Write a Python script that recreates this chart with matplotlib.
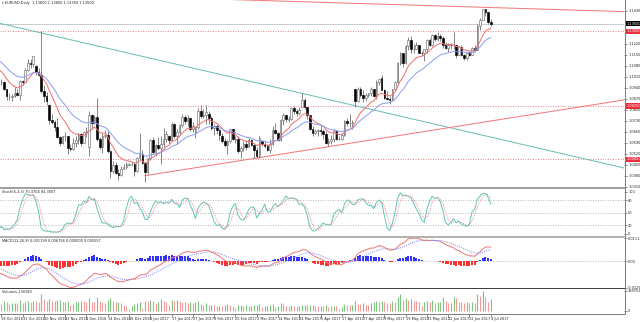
import numpy as np
import pandas as pd
import matplotlib
matplotlib.use("Agg")
from matplotlib import pyplot as plt
from matplotlib.lines import Line2D

W, H = 640, 322

# EURUSD daily bars, 3 Oct 2016 - 4 Jul 2017 (bars before 19 Oct only warm up the indicators)
dates = pd.bdate_range("2016-10-03", "2017-07-04")
first_shown = pd.Timestamp("2016-10-19")

opens = [
    # Oct
    1.1240, 1.1210, 1.1205, 1.1205, 1.1150, 1.1200, 1.1140, 1.1055, 1.1005, 1.1060, 1.0970, 1.1000,
    1.0975, 1.0975, 1.0930, 1.0880, 1.0880, 1.0885, 1.0905, 1.0895, 1.0985,
    # Nov
    1.0980, 1.1055, 1.1100, 1.1095, 1.1080, 1.1040, 1.1025, 1.0920, 1.0890, 1.0830, 1.0735,
    1.0720, 1.0690, 1.0625, 1.0590, 1.0630, 1.0630, 1.0555, 1.0550, 1.0590, 1.0610, 1.0645,
    # Dec
    1.0590, 1.0660, 1.0560, 1.0765, 1.0715, 1.0755, 1.0615, 1.0560, 1.0635, 1.0640, 1.0535,
    1.0410, 1.0450, 1.0400, 1.0385, 1.0425, 1.0435, 1.0450, 1.0455, 1.0455, 1.0410, 1.0495,
    # Jan
    1.0520, 1.0460, 1.0405, 1.0490, 1.0605, 1.0530, 1.0575, 1.0555, 1.0585, 1.0615, 1.0630,
    1.0605, 1.0710, 1.0630, 1.0660, 1.0705, 1.0755, 1.0730, 1.0750, 1.0680, 1.0660, 1.0690,
    # Feb
    1.0795, 1.0760, 1.0765, 1.0775, 1.0750, 1.0685, 1.0700, 1.0670, 1.0635, 1.0600,
    1.0575, 1.0600, 1.0675, 1.0610, 1.0615, 1.0540, 1.0555, 1.0585, 1.0565, 1.0605,
    # Mar
    1.0575, 1.0545, 1.0505, 1.0600, 1.0580, 1.0570, 1.0545, 1.0580, 1.0670, 1.0655, 1.0605, 1.0735,
    1.0765, 1.0735, 1.0740, 1.0810, 1.0795, 1.0780, 1.0815, 1.0865, 1.0815, 1.0765, 1.0675,
    # Apr
    1.0650, 1.0665, 1.0670, 1.0665, 1.0645, 1.0590, 1.0600, 1.0615, 1.0665, 1.0615,
    1.0615, 1.0640, 1.0730, 1.0715, 1.0715, 1.0935, 1.0855, 1.0930, 1.0895, 1.0875,
    # May
    1.0895, 1.0905, 1.0930, 1.0885, 1.0980, 1.1000, 1.0925, 1.0875, 1.0870, 1.0865, 1.0935, 1.0980,
    1.1100, 1.1160, 1.1100, 1.1205, 1.1245, 1.1185, 1.1185, 1.1210, 1.1165, 1.1160, 1.1185,
    # Jun
    1.1245, 1.1215, 1.1280, 1.1250, 1.1270, 1.1260, 1.1210, 1.1195, 1.1215, 1.1210, 1.1215,
    1.1150, 1.1200, 1.1150, 1.1130, 1.1165, 1.1150, 1.1195, 1.1180, 1.1335, 1.1375, 1.1440,
    # Jul
    1.1425, 1.1360,
]
highs = [
    1.1250, 1.1225, 1.1240, 1.1210, 1.1215, 1.1205, 1.1145, 1.1070, 1.1065, 1.1065, 1.1010, 1.1030,
    1.0995, 1.0985, 1.0935, 1.0905, 1.0900, 1.0945, 1.0935, 1.0990, 1.0990,
    1.1065, 1.1125, 1.1125, 1.1145, 1.1085, 1.1065, 1.1300, 1.0955, 1.0915, 1.0835, 1.0775,
    1.0735, 1.0745, 1.0635, 1.0635, 1.0660, 1.0635, 1.0585, 1.0620, 1.0630, 1.0655, 1.0655,
    1.0665, 1.0690, 1.0795, 1.0775, 1.0770, 1.0875, 1.0625, 1.0650, 1.0670, 1.0665, 1.0540,
    1.0475, 1.0465, 1.0420, 1.0445, 1.0455, 1.0465, 1.0460, 1.0470, 1.0470, 1.0500, 1.0650,
    1.0545, 1.0470, 1.0495, 1.0615, 1.0625, 1.0585, 1.0625, 1.0630, 1.0685, 1.0665, 1.0640,
    1.0720, 1.0715, 1.0680, 1.0710, 1.0775, 1.0770, 1.0770, 1.0755, 1.0725, 1.0700, 1.0810,
    1.0830, 1.0805, 1.0830, 1.0790, 1.0760, 1.0710, 1.0710, 1.0680, 1.0655, 1.0620,
    1.0610, 1.0680, 1.0680, 1.0635, 1.0630, 1.0570, 1.0600, 1.0605, 1.0620, 1.0615,
    1.0580, 1.0560, 1.0630, 1.0600, 1.0600, 1.0580, 1.0615, 1.0700, 1.0715, 1.0660, 1.0740, 1.0780,
    1.0775, 1.0760, 1.0820, 1.0825, 1.0805, 1.0815, 1.0905, 1.0875, 1.0820, 1.0770, 1.0695,
    1.0680, 1.0675, 1.0700, 1.0680, 1.0665, 1.0620, 1.0640, 1.0675, 1.0670, 1.0630,
    1.0655, 1.0735, 1.0750, 1.0775, 1.0735, 1.0935, 1.0945, 1.0945, 1.0925, 1.0905,
    1.0910, 1.0945, 1.0935, 1.0990, 1.0995, 1.1020, 1.0935, 1.0920, 1.0890, 1.0935, 1.0985, 1.1105,
    1.1170, 1.1165, 1.1210, 1.1265, 1.1270, 1.1220, 1.1235, 1.1215, 1.1175, 1.1190, 1.1250,
    1.1255, 1.1285, 1.1285, 1.1295, 1.1285, 1.1270, 1.1235, 1.1225, 1.1225, 1.1295, 1.1215,
    1.1205, 1.1215, 1.1155, 1.1170, 1.1175, 1.1200, 1.1215, 1.1350, 1.1385, 1.1445, 1.1445,
    1.1425, 1.1380,
]
lows = [
    1.1200, 1.1175, 1.1185, 1.1140, 1.1105, 1.1135, 1.1050, 1.0995, 1.0990, 1.0960, 1.0965, 1.0975,
    1.0960, 1.0925, 1.0860, 1.0865, 1.0855, 1.0880, 1.0890, 1.0860, 1.0955,
    1.0975, 1.1045, 1.1065, 1.1070, 1.1025, 1.1015, 1.0905, 1.0850, 1.0830, 1.0710, 1.0710,
    1.0665, 1.0620, 1.0570, 1.0580, 1.0600, 1.0520, 1.0540, 1.0545, 1.0560, 1.0585, 1.0570,
    1.0590, 1.0625, 1.0505, 1.0680, 1.0710, 1.0600, 1.0550, 1.0525, 1.0620, 1.0525, 1.0365,
    1.0395, 1.0390, 1.0350, 1.0375, 1.0420, 1.0425, 1.0445, 1.0440, 1.0375, 1.0405, 1.0480,
    1.0455, 1.0340, 1.0390, 1.0480, 1.0525, 1.0505, 1.0545, 1.0455, 1.0565, 1.0595, 1.0580,
    1.0600, 1.0620, 1.0585, 1.0640, 1.0690, 1.0710, 1.0700, 1.0665, 1.0660, 1.0620, 1.0680,
    1.0750, 1.0745, 1.0710, 1.0710, 1.0670, 1.0640, 1.0645, 1.0610, 1.0590, 1.0565,
    1.0520, 1.0590, 1.0605, 1.0590, 1.0525, 1.0495, 1.0540, 1.0545, 1.0560, 1.0570,
    1.0495, 1.0495, 1.0495, 1.0570, 1.0555, 1.0535, 1.0525, 1.0575, 1.0645, 1.0600, 1.0600, 1.0705,
    1.0720, 1.0720, 1.0735, 1.0775, 1.0760, 1.0770, 1.0815, 1.0805, 1.0740, 1.0670, 1.0635,
    1.0645, 1.0630, 1.0640, 1.0615, 1.0580, 1.0570, 1.0580, 1.0595, 1.0605, 1.0610,
    1.0610, 1.0635, 1.0700, 1.0690, 1.0680, 1.0820, 1.0850, 1.0880, 1.0850, 1.0855,
    1.0880, 1.0890, 1.0880, 1.0870, 1.0960, 1.0925, 1.0870, 1.0865, 1.0840, 1.0860, 1.0925, 1.0970,
    1.1085, 1.1075, 1.1095, 1.1180, 1.1165, 1.1165, 1.1185, 1.1160, 1.1145, 1.1110, 1.1165,
    1.1205, 1.1205, 1.1240, 1.1240, 1.1240, 1.1195, 1.1185, 1.1170, 1.1190, 1.1190, 1.1130,
    1.1150, 1.1145, 1.1120, 1.1120, 1.1140, 1.1150, 1.1170, 1.1180, 1.1310, 1.1370, 1.1395,
    1.1345, 1.1335,
]
closes = [
    1.1210, 1.1205, 1.1205, 1.1150, 1.1200, 1.1140, 1.1055, 1.1005, 1.1060, 1.0970, 1.1000, 1.0975,
    1.0975, 1.0930, 1.0885, 1.0880, 1.0885, 1.0905, 1.0895, 1.0985, 1.0980,
    1.1055, 1.1100, 1.1095, 1.1140, 1.1040, 1.1025, 1.0920, 1.0890, 1.0855, 1.0735, 1.0720,
    1.0690, 1.0625, 1.0590, 1.0630, 1.0630, 1.0555, 1.0550, 1.0590, 1.0610, 1.0645, 1.0590,
    1.0660, 1.0665, 1.0765, 1.0715, 1.0755, 1.0615, 1.0560, 1.0635, 1.0640, 1.0535, 1.0410,
    1.0450, 1.0400, 1.0385, 1.0425, 1.0435, 1.0455, 1.0455, 1.0455, 1.0410, 1.0495, 1.0520,
    1.0460, 1.0405, 1.0490, 1.0605, 1.0530, 1.0575, 1.0555, 1.0585, 1.0615, 1.0645, 1.0605,
    1.0710, 1.0630, 1.0660, 1.0705, 1.0755, 1.0730, 1.0750, 1.0680, 1.0695, 1.0690, 1.0795,
    1.0760, 1.0765, 1.0785, 1.0750, 1.0685, 1.0700, 1.0670, 1.0640, 1.0600, 1.0575,
    1.0600, 1.0675, 1.0615, 1.0615, 1.0540, 1.0555, 1.0585, 1.0560, 1.0605, 1.0575,
    1.0545, 1.0505, 1.0620, 1.0580, 1.0570, 1.0545, 1.0580, 1.0670, 1.0655, 1.0605, 1.0735, 1.0765,
    1.0740, 1.0740, 1.0810, 1.0795, 1.0780, 1.0800, 1.0865, 1.0815, 1.0765, 1.0675, 1.0650,
    1.0665, 1.0670, 1.0665, 1.0645, 1.0590, 1.0600, 1.0615, 1.0665, 1.0615, 1.0615,
    1.0640, 1.0730, 1.0715, 1.0715, 1.0725, 1.0855, 1.0930, 1.0895, 1.0875, 1.0895,
    1.0905, 1.0930, 1.0885, 1.0980, 1.0995, 1.0925, 1.0875, 1.0870, 1.0865, 1.0935, 1.0980, 1.1100,
    1.1160, 1.1100, 1.1205, 1.1245, 1.1185, 1.1185, 1.1210, 1.1165, 1.1160, 1.1185, 1.1245,
    1.1215, 1.1280, 1.1250, 1.1270, 1.1260, 1.1210, 1.1195, 1.1215, 1.1210, 1.1215, 1.1150,
    1.1200, 1.1150, 1.1130, 1.1165, 1.1150, 1.1195, 1.1180, 1.1335, 1.1375, 1.1440, 1.1425,
    1.1360, 1.1350,
]
volumes = [
    150210, 161480, 170330, 165020, 210940, 120580, 190110, 175730, 200460, 180320, 140870, 150650,
    140390, 200750, 170210, 130440, 150890, 160120, 150370, 210560, 150980,
    180430, 190260, 170810, 200190, 190540, 170330, 340120, 230670, 190480, 230150, 200870,
    190320, 210650, 220140, 170290, 180560, 190030, 110420, 140760, 170350, 180090, 200530,
    190410, 180220, 260130, 180570, 170940, 280360, 200180, 170620, 160470, 220910, 260250,
    190830, 170140, 170720, 150360, 120280, 100510, 40620, 90330, 140470, 160890, 170250,
    60240, 200580, 190310, 210470, 200650, 160190, 170830, 230540, 200260, 170390, 110720,
    220450, 200380, 210960, 190240, 170560, 170130, 160840, 170920, 160270, 180650, 200340,
    140460, 120780, 150120, 110590, 120350, 110880, 100240, 100670, 90910, 120230,
    130540, 120190, 100760, 60420, 110330, 120850, 90160, 110520, 90740, 100290,
    110850, 120420, 130190, 80560, 90830, 100270, 120610, 140340, 80480, 90950, 150720, 130360,
    100470, 90290, 120630, 100940, 90280, 100170, 120560, 120830, 110240, 120410, 110390,
    90620, 90250, 100880, 100330, 120460, 80790, 100120, 100560, 90380, 40910,
    70270, 130640, 120320, 110750, 120180, 200490, 140360, 130920, 150140, 110570,
    110380, 150690, 170240, 200510, 180130, 190870, 170460, 160290, 150740, 190350, 170620, 270140,
    330580, 220470, 250390, 220810, 230160, 190640, 190220, 170530, 100870, 180310, 200460,
    180290, 220570, 150840, 180130, 180460, 270320, 190750, 150280, 160910, 280430, 260170,
    180620, 170340, 160480, 170190, 160750, 170280, 160610, 330490, 300870, 399751, 280340,
    170560, 230180,
]

# objects drawn on the chart
level_lines = [1.1300, 1.0825, 1.0485]
level_labels = ["1.13000", "1.08250", "1.04850"]
teal_line = [("2016-11-09", 1.1290), ("2017-03-27", 1.0905)]
support_line = [("2017-01-03", 1.0380), ("2017-04-10", 1.0565)]
resistance_line = [("2017-02-22", 1.1501), ("2017-07-04", 1.1452)]
# scale labels (the two under the price boxes are hidden)
price_ticks = [1.1430, 1.1220, 1.1150, 1.1080, 1.1010, 1.0940, 1.0870,
               1.0800, 1.0730, 1.0660, 1.0590, 1.0520, 1.0450, 1.0380, 1.0310]
stoch_ticks = [100, 80, 50, 20, 0]
title = "EURUSD,Daily  1.13600 1.13800 1.13350 1.13500"

n = len(closes)
x = np.arange(n)
o, hi, lo, c = (np.array(a) for a in (opens, highs, lows, closes))
vol = np.array(volumes, dtype=float)
i0 = dates.get_loc(first_shown)
xmin, xmax = i0 - 0.5, i0 + 234.1
shown = x >= i0

# indicators
cs = pd.Series(c)
ma_fast = cs.ewm(span=10, adjust=False).mean()
ma_slow = cs.ewm(span=21, adjust=False).mean()
macd = cs.ewm(span=12, adjust=False).mean() - cs.ewm(span=26, adjust=False).mean()
signal = macd.ewm(span=9, adjust=False).mean()
osma = macd - signal
hh = pd.Series(hi).rolling(5).max()
ll = pd.Series(lo).rolling(5).min()
stoch_k = (cs - ll).rolling(3).sum() / (hh - ll).rolling(3).sum() * 100
stoch_d = stoch_k.rolling(3).mean()

FS = 2.5
PX = 0.72  # one pixel in points


def rect(x0, y0, x1, y1):
    return [x0 / W, 1 - y1 / H, (x1 - x0) / W, (y1 - y0) / H]


def line_from(points, x_from, x_to):
    (d1, p1), (d2, p2) = points
    a, b = dates.get_loc(pd.Timestamp(d1)), dates.get_loc(pd.Timestamp(d2))
    xs = np.array([a if x_from is None else x_from, x_to])
    return xs, p1 + (p2 - p1) / (b - a) * (xs - a)


fig = plt.figure(figsize=(W / 100, H / 100), dpi=100)
ax = fig.add_axes(rect(0, 0, 624, 187))
ax_st = fig.add_axes(rect(0, 189, 624, 236.5))
ax_md = fig.add_axes(rect(0, 238, 624, 287.5))
ax_v = fig.add_axes(rect(0, 289, 624, 313.5))

for a in (ax, ax_st, ax_md, ax_v):
    a.set_xlim(xmin, xmax)
    for s in a.spines.values():
        s.set_visible(False)
    a.yaxis.tick_right()
    a.tick_params(axis="y", length=2, width=0.5, pad=1, labelsize=FS, colors="#606060",
                  labelcolor="#202020")
    a.tick_params(axis="x", bottom=False, labelbottom=False)

# main price pane
ax.set_ylim(1.0308, 1.1500)
ax.set_yticks(price_ticks)
ax.set_yticklabels([f"{p:.5f}" for p in price_ticks])

ax.axhline(c[-1], color="#cccccc", lw=1 * PX, zorder=1)
for p in level_lines:
    ax.axhline(p, color="#e98a8a", lw=1 * PX, ls=(0, (1, 1.5)), zorder=1)

xs, ys = line_from(teal_line, xmin, xmax)
ax.plot(xs, ys, color="#6cbdb5", lw=1 * PX, zorder=2)
xs, ys = line_from(support_line, None, xmax)
ax.plot(xs, ys, color="#f07878", lw=1 * PX, zorder=2)
xs, ys = line_from(resistance_line, xmin, xmax)
ax.plot(xs, ys, color="#f07878", lw=1 * PX, zorder=2)

bull = c >= o
ax.vlines(x, lo, hi, color="#6a6a6a", lw=0.8 * PX, zorder=3)
body = np.maximum(np.abs(c - o), 0.00008)
ax.bar(x[bull], body[bull], bottom=np.minimum(o, c)[bull], width=0.6,
       color="white", edgecolor="#6a6a6a", lw=0.6 * PX, zorder=4)
ax.bar(x[~bull], body[~bull], bottom=np.minimum(o, c)[~bull], width=0.6,
       color="black", edgecolor="black", lw=0.6 * PX, zorder=4)

ax.plot(x, ma_fast, color="#f07070", lw=1 * PX, zorder=5)
ax.plot(x, ma_slow, color="#8c9ef2", lw=1 * PX, zorder=5)

ax.text(0.004, 0.993, "\u25be " + title, transform=ax.transAxes, fontsize=FS, va="top",
        ha="left", color="#202020")
yax = ax.get_yaxis_transform()
ax.text(1.004, c[-1], f"{c[-1]:.5f}", transform=yax, fontsize=FS, va="center", ha="left",
        color="white", clip_on=False, zorder=10,
        bbox=dict(boxstyle="square,pad=0.2", fc="black", ec="none"))
for p, lab in zip(level_lines, level_labels):
    ax.text(1.004, p, lab, transform=yax, fontsize=FS, va="center", ha="left",
            color="white", clip_on=False, zorder=10,
            bbox=dict(boxstyle="square,pad=0.2", fc="#e8303a", ec="none"))

# stochastic pane
ax_st.set_ylim(-6.7, 106.4)
ax_st.set_yticks(stoch_ticks)
ax_st.set_yticklabels([str(t) for t in stoch_ticks])
for lv in (80, 50, 20):
    ax_st.axhline(lv, color="#bdbdbd", lw=1 * PX, ls=(0, (1, 1.5)))
ax_st.plot(x, stoch_k, color="#63c6bd", lw=1 * PX)
ax_st.plot(x, stoch_d, color="#f08c8c", lw=1 * PX, ls=(0, (1, 1.2)))
ax_st.text(0.004, 0.98, f"Stoch(5,3,3) {stoch_k.iloc[-1]:.4f} {stoch_d.iloc[-1]:.4f}",
           transform=ax_st.transAxes, fontsize=FS, va="top", color="#202020")

# MACD pane
vis = [s[shown] for s in (macd, signal, osma)]
top = max(v.max() for v in vis)
bot = min(v.min() for v in vis)
ax_md.set_ylim(bot, top)
ax_md.set_yticks([top, 0, bot])
ax_md.set_yticklabels([f"{top:.6f}", "0.00", f"{bot:.6f}"])
ax_md.axhline(0, color="#bdbdbd", lw=1 * PX, ls=(0, (1, 1.5)))
hcol = np.where(osma >= 0, "#0000ff", "#ff0000")
ax_md.vlines(x, 0, osma, colors=hcol, lw=1.6 * PX)
ax_md.plot(x, macd, color="#f07878", lw=1 * PX)
ax_md.plot(x, signal, color="#8080f0", lw=1 * PX, ls=(0, (1, 1.2)))
ax_md.text(0.004, 0.98,
           f"MACD(12,26,9) {osma.iloc[-1]:.6f} {macd.iloc[-1]:.6f} 0.000000 {signal.iloc[-1]:.6f}",
           transform=ax_md.transAxes, fontsize=FS, va="top", color="#202020")

# volume pane
vmax = vol[shown].max()
ax_v.set_ylim(-0.125 * vmax, 1.1 * vmax)
ax_v.set_yticks([vmax, 0])
ax_v.set_yticklabels([f"{int(vmax)}", "0"])
up = np.r_[True, vol[1:] > vol[:-1]]
ax_v.vlines(x, 0, vol, colors=np.where(up, "#7cc47c", "#f29a9a"), lw=1.1 * PX)
ax_v.text(0.004, 0.97, f"Volumes {int(vol[-1])}", transform=ax_v.transAxes, fontsize=FS,
          va="top", color="#202020")

# date axis
tick_idx = x[i0::8]
ax_v.tick_params(axis="x", bottom=True, labelbottom=True, length=2, width=0.5, pad=0.8,
                 labelsize=FS, colors="#606060", labelcolor="#202020")
ax_v.set_xticks(tick_idx)
ax_v.set_xticklabels([f"{d.day} {d:%b %Y}" for d in dates[tick_idx]])
for lbl in ax_v.get_xticklabels():
    lbl.set_ha("left")

# pane borders
def hline(y, color, lw):
    fig.add_artist(Line2D([0, 624 / W], [1 - y / H] * 2, color=color, lw=lw * PX,
                          transform=fig.transFigure))

hline(188, "#a0a0a0", 2)
hline(237.2, "#999999", 1.5)
hline(288.3, "#404040", 1)
hline(314, "#808080", 1)
fig.add_artist(Line2D([624.5 / W] * 2, [1, 1 - 314 / H], color="#808080", lw=1 * PX,
                      transform=fig.transFigure))

fig.savefig("out.png", dpi=100)
